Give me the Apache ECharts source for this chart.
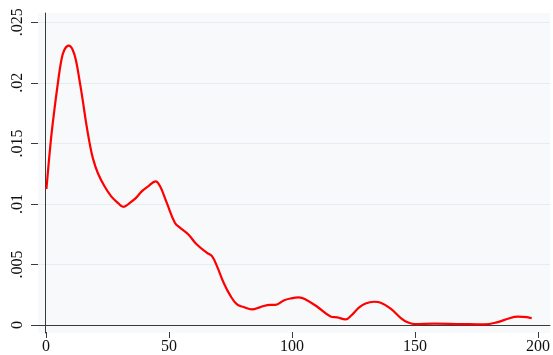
<!DOCTYPE html>
<html>
<head>
<meta charset="utf-8">
<script src="https://cdn.jsdelivr.net/npm/echarts@6/dist/echarts.min.js"></script>
<style>
  html, body { margin: 0; padding: 0; background: #ffffff; }
  #chart { width: 553px; height: 355px; }
</style>
</head>
<body>
<div id="chart"></div>
<script>
// Kernel density estimate: evaluation points and density values
const xValues = [
  0.3, 2.1, 3.5, 4.9, 6.2, 7.5, 9.3, 10.9, 12.3, 13.6,
  14.9, 16.3, 17.7, 19.0, 21.0, 23.7, 26.4, 29.1, 31.3, 33.9,
  36.5, 38.7, 41.3, 44.3, 46.1, 48.8, 52.1, 54.2, 57.5, 60.9,
  65.0, 67.0, 69.0, 71.7, 74.4, 77.1, 79.8, 83.1, 86.5, 90.5,
  92.6, 95.9, 98.6, 102.0, 104.7, 109.4, 114.8, 117.5, 120.8, 122.9,
  126.2, 128.9, 132.3, 135.0, 139.0, 143.1, 145.8, 148.5, 156.6, 167.3,
  176.8, 182.2, 186.2, 190.3, 193.9, 195.8
];
const densityValues = [
  0.01121, 0.01527, 0.01774, 0.01994, 0.02172, 0.02269, 0.02304, 0.02269, 0.02172, 0.02021,
  0.01857, 0.01665, 0.01500, 0.01376, 0.01253, 0.01143, 0.01060, 0.01006, 0.00973, 0.01006,
  0.01050, 0.01101, 0.01143, 0.01184, 0.01143, 0.01006, 0.00841, 0.00800, 0.00745, 0.00662,
  0.00594, 0.00566, 0.00484, 0.00347, 0.00240, 0.00168, 0.00146, 0.00127, 0.00146, 0.00165,
  0.00165, 0.00201, 0.00217, 0.00226, 0.00209, 0.00149, 0.00069, 0.00061, 0.00044, 0.00072,
  0.00141, 0.00176, 0.00190, 0.00182, 0.00133, 0.00055, 0.00020, 0.00006, 0.00010, 0.00006,
  0.00003, 0.00022, 0.00050, 0.00067, 0.00063, 0.00053
];

// Tick values and their printed labels
const xTicks = [0, 50, 100, 150, 200];
const yTicks = [0, 0.005, 0.01, 0.015, 0.02, 0.025];
const yTickLabels = ['0', '.005', '.01', '.015', '.02', '.025'];

const points = xValues.map((x, i) => [x, densityValues[i]]);

const axisColor = '#3a3a3a';
const labelFont = { fontFamily: 'Liberation Serif', fontSize: 16, color: '#111111' };

const chart = echarts.init(document.getElementById('chart'), null, { renderer: 'canvas' });

chart.setOption({
  animation: false,
  backgroundColor: '#ffffff',
  grid: [
    // plot region with shaded background and axis lines
    { left: 38, right: 3, top: 13, bottom: 22, show: true, backgroundColor: '#f7f9fa', borderWidth: 0, z: 0 },
    // y ticks, labels and horizontal grid lines
    { left: 38, right: 3, top: 22.3, bottom: 30, show: false },
    // x ticks and labels
    { left: 46, right: 11, top: 13, bottom: 22, show: false }
  ],
  xAxis: [
    { gridIndex: 0, type: 'value', min: -3.1, max: 203.2,
      axisLine: { show: true, lineStyle: { color: axisColor, width: 1 } },
      axisTick: { show: false }, axisLabel: { show: false }, splitLine: { show: false } },
    { gridIndex: 1, type: 'value', min: 0, max: 200, show: false },
    { gridIndex: 2, type: 'value', min: xTicks[0], max: xTicks[xTicks.length - 1], interval: 50,
      axisLine: { show: false },
      axisTick: { show: true, length: 6, lineStyle: { color: axisColor } },
      axisLabel: Object.assign({ margin: 7 }, labelFont),
      splitLine: { show: false } }
  ],
  yAxis: [
    { gridIndex: 0, type: 'value', min: -0.00068, max: 0.02574,
      axisLine: { show: true, lineStyle: { color: axisColor, width: 1 } },
      axisTick: { show: false }, axisLabel: { show: false }, splitLine: { show: false } },
    { gridIndex: 1, type: 'value', min: yTicks[0], max: yTicks[yTicks.length - 1], interval: 0.005,
      axisLine: { show: false },
      axisTick: { show: true, length: 7, lineStyle: { color: axisColor } },
      axisLabel: Object.assign({
        margin: 12, rotate: 90,
        formatter: (v) => {
          const idx = yTicks.findIndex(t => Math.abs(t - v) < 1e-9);
          return idx >= 0 ? yTickLabels[idx] : '';
        }
      }, labelFont),
      splitLine: { show: true, lineStyle: { color: '#e4eef2', width: 1 } } },
    { gridIndex: 2, type: 'value', min: 0, max: 1, show: false }
  ],
  series: [{
    type: 'line',
    xAxisIndex: 0,
    yAxisIndex: 0,
    data: points,
    smooth: 0.4,
    showSymbol: false,
    lineStyle: { color: '#ff0000', width: 2.2 },
    z: 5
  }]
});
</script>
</body>
</html>
